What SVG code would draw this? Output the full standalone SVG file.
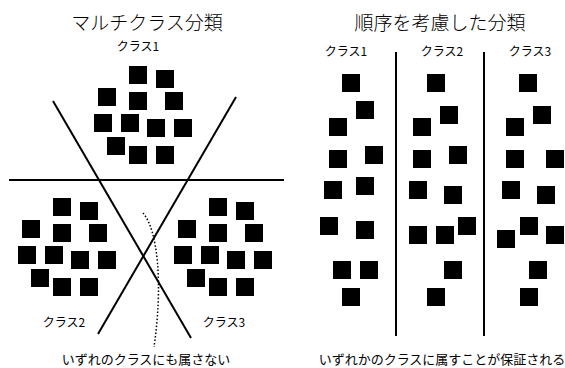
<svg xmlns="http://www.w3.org/2000/svg" width="565" height="368" viewBox="0 0 565 368">
<style>
text{font-family:"Noto Sans CJK JP","Noto Sans",sans-serif;fill:#000;text-anchor:middle}
.t{font-size:19px;font-weight:300}
.l{font-size:12px}
.b{font-size:13px}
.ln{stroke:#000;stroke-width:2;fill:none}
.dot{stroke:#000;stroke-width:1.5;fill:none;stroke-dasharray:1.5 2}
</style>
<defs>
<rect id="s" width="18" height="18" fill="#000"/>
<g id="cl">
<use href="#s" x="0" y="0"/><use href="#s" x="27" y="4"/><use href="#s" x="-31" y="22"/>
<use href="#s" x="0" y="26"/><use href="#s" x="36" y="26"/><use href="#s" x="-35" y="48"/>
<use href="#s" x="-8" y="48"/><use href="#s" x="18" y="53"/><use href="#s" x="45" y="53"/>
<use href="#s" x="-22" y="71"/><use href="#s" x="0" y="80"/><use href="#s" x="27" y="80"/>
</g>
</defs>
<rect width="565" height="368" fill="#fff"/>
<g id="connectors">
<line class="ln" x1="9" y1="180" x2="284" y2="180"/>
<line class="ln" x1="53" y1="101" x2="191" y2="338"/>
<line class="ln" x1="236" y1="97" x2="98" y2="334"/>
<path class="dot" d="M143,213 C158,230 163,285 154,347"/>
<line class="ln" x1="396" y1="52" x2="396" y2="336"/>
<line class="ln" x1="484" y1="52" x2="484" y2="336"/>
</g>
<g id="title-left"><text class="t" x="147" y="30">マルチクラス分類</text></g>
<g id="title-right"><text class="t" x="440" y="30">順序を考慮した分類</text></g>
<g id="cluster1"><text class="l" x="138" y="51">クラス1</text><use href="#cl" x="129" y="66"/></g>
<g id="cluster2"><use href="#cl" x="53" y="198"/><text class="l" x="64" y="327">クラス2</text></g>
<g id="cluster3"><use href="#cl" x="209" y="198"/><text class="l" x="224" y="327">クラス3</text></g>
<g id="note-left"><text class="b" x="146" y="364">いずれのクラスにも属さない</text></g>
<g id="col1"><text class="l" x="346" y="56">クラス1</text>
<use href="#s" x="342" y="74"/><use href="#s" x="356" y="101"/><use href="#s" x="329" y="118"/>
<use href="#s" x="329" y="150"/><use href="#s" x="365" y="146"/><use href="#s" x="356" y="177"/>
<use href="#s" x="324" y="181"/><use href="#s" x="320" y="217"/><use href="#s" x="356" y="221"/>
<use href="#s" x="333" y="261"/><use href="#s" x="360" y="261"/><use href="#s" x="342" y="288"/>
</g>
<g id="col2"><text class="l" x="442" y="56">クラス2</text>
<use href="#s" x="427" y="74"/><use href="#s" x="440" y="106"/><use href="#s" x="413" y="118"/>
<use href="#s" x="413" y="150"/><use href="#s" x="449" y="146"/><use href="#s" x="409" y="181"/>
<use href="#s" x="444" y="186"/><use href="#s" x="458" y="217"/><use href="#s" x="409" y="226"/>
<use href="#s" x="436" y="226"/><use href="#s" x="444" y="261"/><use href="#s" x="427" y="288"/>
</g>
<g id="col3"><text class="l" x="530" y="56">クラス3</text>
<use href="#s" x="519" y="74"/><use href="#s" x="533" y="106"/><use href="#s" x="506" y="118"/>
<use href="#s" x="506" y="150"/><use href="#s" x="546" y="150"/><use href="#s" x="502" y="181"/>
<use href="#s" x="537" y="186"/><use href="#s" x="520" y="217"/><use href="#s" x="546" y="226"/>
<use href="#s" x="497" y="230"/><use href="#s" x="529" y="261"/><use href="#s" x="520" y="288"/>
</g>
<g id="note-right"><text class="b" x="442" y="364">いずれかのクラスに属すことが保証される</text></g>
</svg>
